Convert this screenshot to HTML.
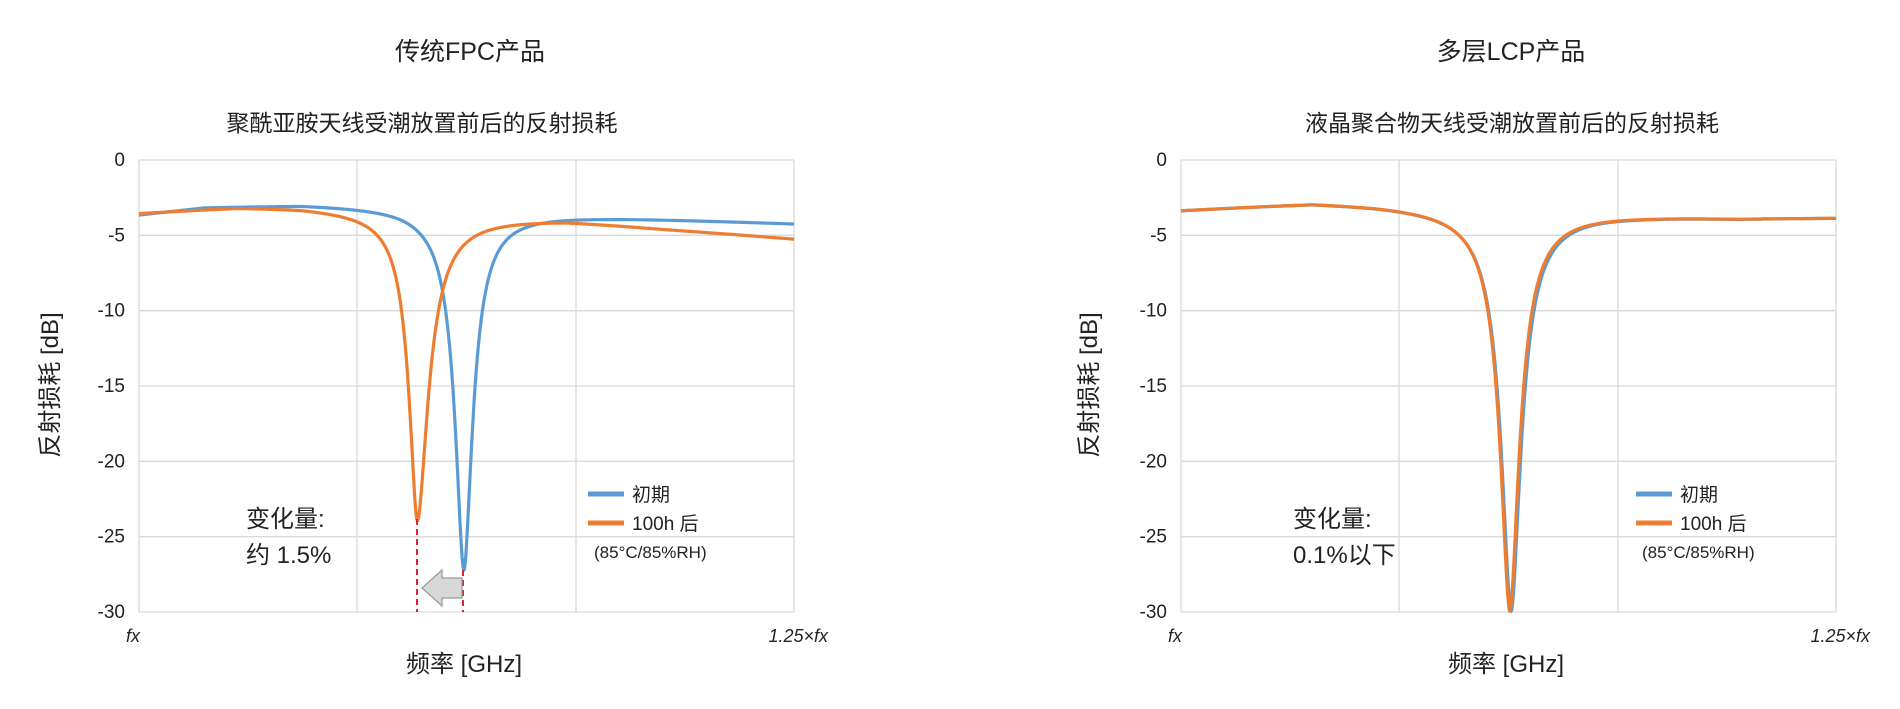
<!DOCTYPE html>
<html><head><meta charset="utf-8"><style>
body{margin:0;background:#fff;}
svg text{font-family:"Liberation Sans","Noto Sans CJK SC",sans-serif;fill:#222;}
</style></head><body>
<svg id="s" width="1900" height="704" xmlns="http://www.w3.org/2000/svg">
<g id="L" transform="translate(0,0)"></g>
<g id="R" transform="translate(1042,0)"></g>
<text x="470" y="60" font-size="25" text-anchor="middle">传统FPC产品</text>
<text x="422" y="131" font-size="23" text-anchor="middle">聚酰亚胺天线受潮放置前后的反射损耗</text>
<text x="1511" y="60" font-size="25" text-anchor="middle">多层LCP产品</text>
<text x="1512" y="131" font-size="23" text-anchor="middle">液晶聚合物天线受潮放置前后的反射损耗</text>
</svg>
<script>
var NS="http://www.w3.org/2000/svg";
function el(p,t,a,txt){var e=document.createElementNS(NS,t);for(var k in a)e.setAttribute(k,a[k]);if(txt!==undefined)e.textContent=txt;p.appendChild(e);return e;}
var X0=139,X1=794,Y0=160,Y1=612;
function px(f){return X0+f*(X1-X0);} function py(d){return Y0+(-d/30)*(Y1-Y0);}
function interp(k,x){for(var i=0;i<k.length-1;i++){if(x<=k[i+1][0]){var t=(x-k[i][0])/(k[i+1][0]-k[i][0]);return k[i][1]+t*(k[i+1][1]-k[i][1]);}}return k[k.length-1][1];}
function curve(g,base,x0,A,wl,wr,col){var pts=[];for(var i=0;i<=1200;i++){var x=i/1200;var w=x<x0?wl:wr;var d=interp(base,x)-A/(1+Math.pow(Math.abs(x-x0)/w,1.8));if(d<-30)d=-30;pts.push(px(x).toFixed(1)+","+py(d).toFixed(1));}
el(g,"polyline",{points:pts.join(" "),fill:"none",stroke:col,"stroke-width":3.2,"stroke-linejoin":"round"});}
function axes(g,ylabX){
 for(var i=0;i<=6;i++){var y=py(-5*i);el(g,"line",{x1:X0,x2:X1,y1:y,y2:y,stroke:"#d9d9d9","stroke-width":1.3});
  el(g,"text",{x:125,y:y+6,"font-size":19,"text-anchor":"end"},i?("-"+5*i):"0");}
 [X0,357,576,X1].forEach(function(x){el(g,"line",{x1:x,x2:x,y1:Y0,y2:Y1,stroke:"#d9d9d9","stroke-width":1.3});});
 el(g,"text",{x:133,y:642,"font-size":18,"font-style":"italic","text-anchor":"middle"},"fx");
 el(g,"text",{x:828,y:642,"font-size":18,"font-style":"italic","text-anchor":"end"},"1.25×fx");
 el(g,"text",{x:464,y:672,"font-size":24,"text-anchor":"middle"},"频率 [GHz]");
 el(g,"text",{x:0,y:0,"font-size":24,"text-anchor":"middle",transform:"translate("+ylabX+",385) rotate(-90)"},"反射损耗 [dB]");
}
function legend(g,lx){
 el(g,"line",{x1:lx,x2:lx+36,y1:494,y2:494,stroke:"#5b9bd5","stroke-width":5});
 el(g,"line",{x1:lx,x2:lx+36,y1:523,y2:523,stroke:"#ed7d31","stroke-width":5});
 el(g,"text",{x:lx+44,y:501,"font-size":19},"初期");
 el(g,"text",{x:lx+44,y:530,"font-size":19},"100h 后");
 el(g,"text",{x:lx+6,y:558,"font-size":17},"(85°C/85%RH)");
}
var L=document.getElementById("L"),R=document.getElementById("R");
axes(L,58);
curve(L,[[0,-3.6],[0.1,-3.1],[0.25,-2.9],[0.4,-3.0],[0.6,-3.5],[0.7,-3.7],[1,-4.2]],0.496,24,0.0167,0.0167,"#5b9bd5");
curve(L,[[0,-3.5],[0.15,-3.1],[0.25,-3.1],[0.35,-3.3],[0.5,-3.6],[0.65,-3.9],[0.8,-4.5],[1,-5.2]],0.425,20.5,0.016,0.021,"#ed7d31");
legend(L,588);
el(L,"text",{x:246,y:527,"font-size":24},"变化量:");
el(L,"text",{x:246,y:563,"font-size":24},"约 1.5%");
el(L,"line",{x1:417,x2:417,y1:519,y2:612,stroke:"#e0203a","stroke-width":2,"stroke-dasharray":"6,4"});
el(L,"line",{x1:463,x2:463,y1:570,y2:612,stroke:"#e0203a","stroke-width":2,"stroke-dasharray":"6,4"});
el(L,"polygon",{points:"422,588 442,570 442,578 462,578 462,598 442,598 442,606",fill:"#d8d8d8",stroke:"#999","stroke-width":1.2});
axes(R,55);
var rb=[[0,-3.3],[0.2,-2.8],[0.3,-2.9],[0.7,-3.6],[0.85,-3.8],[1,-3.8]];
curve(R,rb,0.504,26.7,0.019,0.019,"#5b9bd5");
curve(R,rb,0.502,26.7,0.0185,0.0185,"#ed7d31");
legend(R,594);
el(R,"text",{x:251,y:527,"font-size":24},"变化量:");
el(R,"text",{x:251,y:563,"font-size":24},"0.1%以下");
</script>
</body></html>
